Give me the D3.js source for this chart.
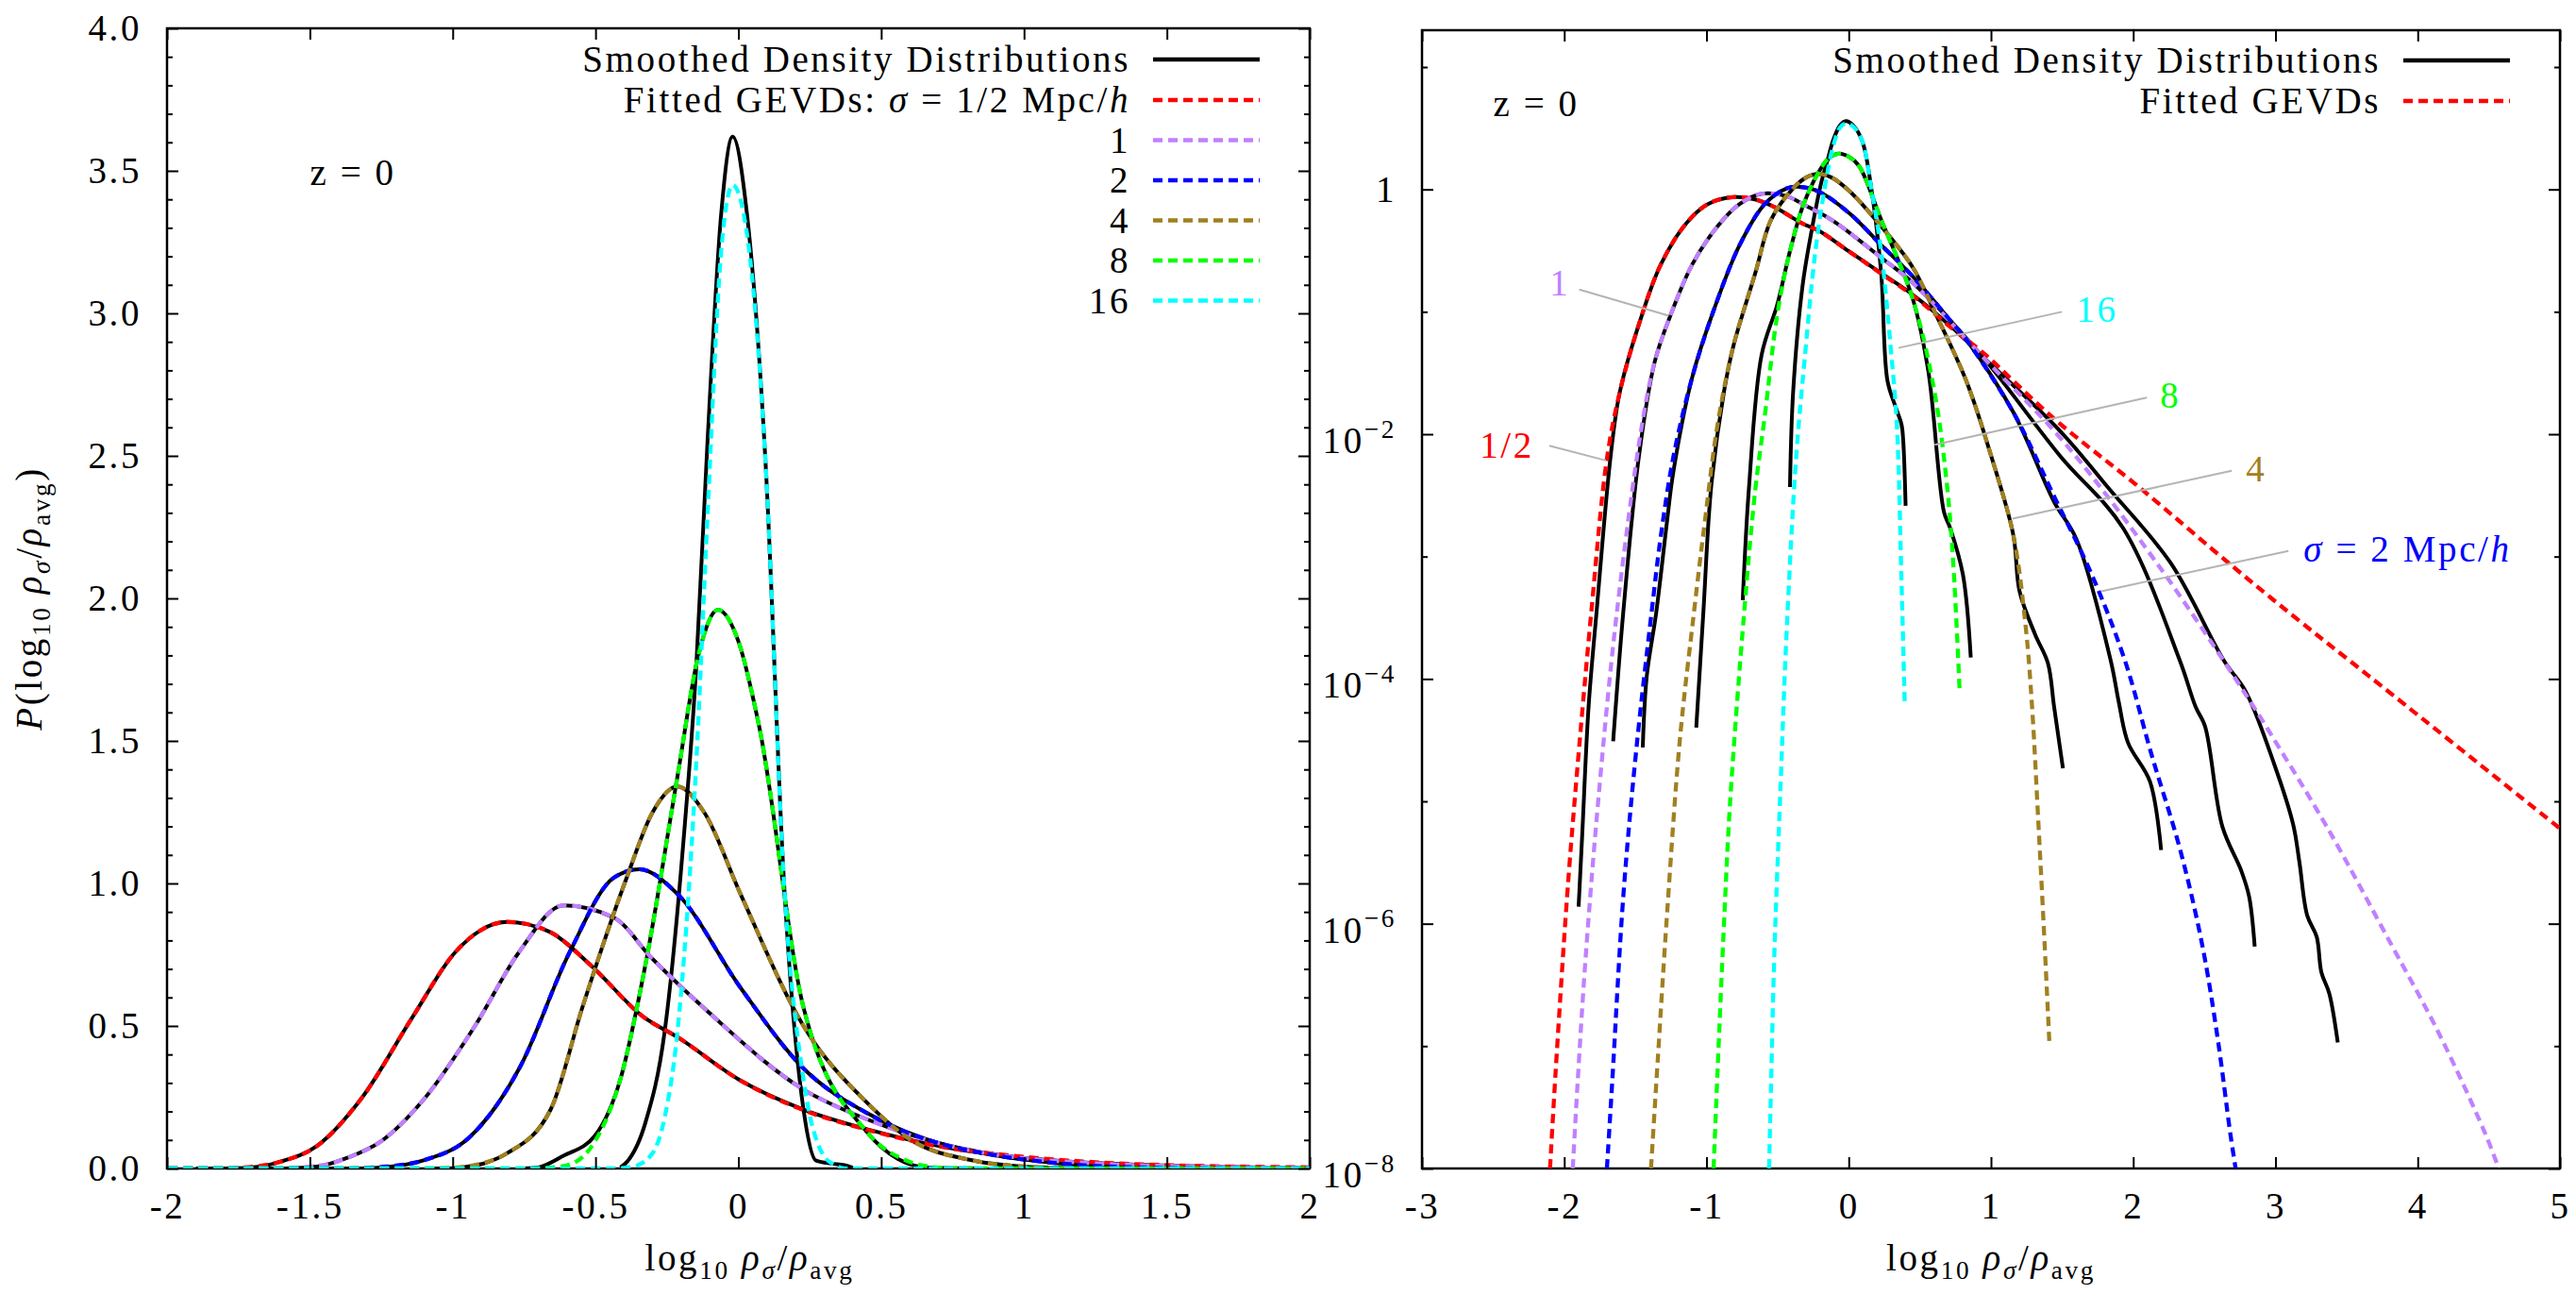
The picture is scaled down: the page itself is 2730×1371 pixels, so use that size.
<!DOCTYPE html>
<html><head><meta charset="utf-8">
<script src="https://cdn.jsdelivr.net/npm/d3@7"></script>
<style>body{margin:0;background:#fff}</style>
</head><body>
<svg id="c" width="2730" height="1371" xmlns="http://www.w3.org/2000/svg"></svg>
<script>
// ---------------- DATA ----------------
const scaleNames = ["1/2", "1", "2", "4", "8", "16"];
const seriesColors = ["#ff0000", "#c080ff", "#0000ff", "#a08020", "#00ff00", "#00ffff"];

// Fitted GEVDs: [log10 rho/rho_avg, P]
const fitHalf = [[-3,0],[-2.10,1e-8],[-2.06,6.3e-8],[-1.98,1.66e-6],[-1.92,1.26e-5],[-1.81,3.5e-4],[-1.70,6.3e-3],[-1.61,0.0219],[-1.475,0.079],[-1.32,0.245],[-1.14,0.532],[-0.99,0.76],[-0.81,0.865],[-0.66,0.83],[-0.52,0.716],[-0.33,0.53],[-0.21,0.459],[0,0.313],[0.23,0.204],[0.45,0.136],[0.74,0.071],[0.94,0.0468],[1.44,0.0135],[2.04,3.7e-3],[2.70,8.3e-4],[3.15,3.1e-4],[3.66,1.05e-4],[5.0,6.0e-6]];
const fitOne = [[-3,0],[-1.94,1e-8],[-1.906,5e-8],[-1.851,5.0e-7],[-1.762,9.8e-6],[-1.63,3.5e-4],[-1.453,0.012],[-1.364,0.039],[-1.254,0.093],[-1.099,0.245],[-0.922,0.50],[-0.767,0.76],[-0.612,0.923],[-0.436,0.88],[-0.303,0.738],[-0.104,0.548],[0.228,0.277],[0.449,0.173],[0.935,0.0437],[1.51,8.7e-3],[2.196,7.9e-4],[2.848,5.9e-5],[2.97,3.5e-5],[3.368,6.0e-6],[3.81,6.9e-7],[4.142,1.32e-7],[4.473,1.95e-8],[4.57,1e-8],[5,0]];
const fitTwo = [[-3,0],[-1.70,1e-8],[-1.663,5e-8],[-1.585,1.66e-6],[-1.497,2.4e-5],[-1.386,3.5e-4],[-1.320,1.5e-3],[-1.232,6.6e-3],[-1.099,0.0295],[-0.944,0.107],[-0.767,0.351],[-0.590,0.76],[-0.436,1.02],[-0.347,1.05],[-0.214,0.964],[0.007,0.635],[0.228,0.351],[0.449,0.195],[0.736,0.079],[0.825,0.0596],[1.157,0.0151],[1.444,3.1e-3],[1.709,7.1e-4],[1.942,1.41e-4],[2.129,2.4e-5],[2.328,4.1e-6],[2.483,6.9e-7],[2.594,1.15e-7],[2.682,1.95e-8],[2.72,1e-8],[5,0]];
const fitFour = [[-3,0],[-1.39,1e-8],[-1.342,7.9e-8],[-1.276,1.26e-6],[-1.187,3.2e-5],[-1.088,3.5e-4],[-1.010,2.0e-3],[-0.922,0.012],[-0.811,0.0525],[-0.657,0.207],[-0.546,0.565],[-0.391,1.02],[-0.30,1.25],[-0.214,1.34],[-0.12,1.25],[0.007,0.964],[0.228,0.50],[0.449,0.232],[0.604,0.10],[0.825,0.0275],[1.002,6.6e-3],[1.157,1.5e-3],[1.245,2.6e-4],[1.289,5.9e-5],[1.33,7.9e-6],[1.37,1.0e-6],[1.41,1.1e-7],[1.411,0],[5,0]];
const fitEight = [[-3,0],[-0.95,1e-8],[-0.922,6.3e-8],[-0.878,9.3e-7],[-0.834,9.8e-6],[-0.735,3.5e-4],[-0.657,3.5e-3],[-0.590,0.0141],[-0.502,0.0955],[-0.413,0.313],[-0.325,0.716],[-0.214,1.37],[-0.14,1.80],[-0.071,1.96],[0.0,1.85],[0.073,1.55],[0.228,0.565],[0.449,0.129],[0.604,0.0219],[0.692,3.7e-3],[0.736,8.3e-4],[0.78,7.9e-5],[0.781,0],[5,0]];
const fitSixteen = [[-3,0],[-0.56,1e-8],[-0.546,4.8e-8],[-0.524,5.1e-7],[-0.480,1.26e-5],[-0.436,2.5e-4],[-0.369,6.6e-3],[-0.303,0.050],[-0.259,0.174],[-0.214,0.473],[-0.148,1.41],[-0.108,2.29],[-0.06,3.22],[-0.02,3.45],[0.03,3.28],[0.095,2.48],[0.16,1.0],[0.228,0.313],[0.294,0.0525],[0.338,0.012],[0.371,6.3e-4],[0.394,6.0e-5],[0.395,0],[5,0]];

// Smoothed density distributions (measured)
const dataHalf = [[-1.899,1.38e-6],[-1.873,5.5e-6],[-1.829,5.9e-5],[-1.773,3.5e-4],[-1.674,6.6e-3],[-1.61,0.0219],[-1.475,0.079],[-1.32,0.245],[-1.14,0.532],[-0.99,0.76],[-0.81,0.865],[-0.66,0.83],[-0.52,0.716],[-0.33,0.53],[-0.21,0.459],[0,0.313],[0.23,0.206],[0.45,0.138],[0.74,0.072],[0.935,0.0437],[1.49,0.0105],[1.82,3.7e-3],[2.262,8.9e-4],[2.638,1.41e-4],[2.793,7.8e-5],[2.992,2.0e-5],[3.124,6.5e-6],[3.168,3.2e-6],[3.223,1.17e-6],[3.290,7.8e-7],[3.323,4.0e-7],[3.378,2.7e-7],[3.438,1.07e-7]];
const dataOne = [[-1.656,3.1e-5],[-1.585,3.5e-4],[-1.475,6.6e-3],[-1.364,0.039],[-1.254,0.093],[-1.099,0.245],[-0.922,0.50],[-0.767,0.76],[-0.612,0.923],[-0.436,0.88],[-0.303,0.738],[-0.104,0.548],[0.228,0.277],[0.449,0.173],[0.935,0.0437],[1.488,6.6e-3],[1.930,1.7e-3],[2.328,1.41e-4],[2.439,5.9e-5],[2.505,4.1e-5],[2.627,6.2e-6],[2.76,2.7e-6],[2.815,1.66e-6],[2.854,6.5e-7]];
const dataTwo = [[-1.448,2.75e-5],[-1.420,1.05e-4],[-1.353,3.5e-4],[-1.276,2.0e-3],[-1.232,5.0e-3],[-1.099,0.0295],[-0.944,0.107],[-0.767,0.351],[-0.590,0.76],[-0.436,1.02],[-0.347,1.05],[-0.214,0.964],[0.007,0.635],[0.228,0.351],[0.449,0.195],[0.736,0.079],[0.825,0.0596],[1.157,0.0151],[1.444,2.8e-3],[1.599,1.4e-3],[1.842,1.41e-4],[1.897,6.6e-5],[1.964,3.0e-5],[2.118,1.45e-5],[2.196,4.0e-6]];
const dataFour = [[-1.072,4.0e-5],[-1.022,3.5e-4],[-0.967,3.7e-3],[-0.878,0.0219],[-0.811,0.0525],[-0.657,0.207],[-0.546,0.565],[-0.391,1.02],[-0.30,1.25],[-0.214,1.34],[-0.12,1.25],[0.007,0.964],[0.228,0.50],[0.449,0.232],[0.604,0.10],[0.825,0.0275],[1.002,6.6e-3],[1.157,1.5e-3],[1.201,5.2e-4],[1.311,2.3e-4],[1.400,1.35e-4],[1.444,5.9e-5],[1.506,1.86e-5]];
const dataEight = [[-0.745,4.4e-4],[-0.701,3.7e-3],[-0.612,0.0447],[-0.502,0.115],[-0.413,0.313],[-0.325,0.716],[-0.214,1.37],[-0.14,1.80],[-0.071,1.96],[0.0,1.85],[0.073,1.55],[0.228,0.565],[0.449,0.129],[0.559,0.033],[0.670,2.3e-3],[0.714,1.7e-3],[0.803,7.1e-4],[0.858,1.5e-4]];
const dataSixteen = [[-0.413,3.7e-3],[-0.391,0.0219],[-0.325,0.162],[-0.259,0.473],[-0.192,1.15],[-0.148,1.75],[-0.108,2.55],[-0.06,3.35],[-0.02,3.62],[0.03,3.35],[0.095,2.48],[0.16,1.0],[0.228,0.207],[0.272,0.0275],[0.327,0.017],[0.371,0.012],[0.383,8.9e-3],[0.400,2.6e-3]];

const fits = [fitHalf, fitOne, fitTwo, fitFour, fitEight, fitSixteen];
const datas = [dataHalf, dataOne, dataTwo, dataFour, dataEight, dataSixteen];

// Tick values / labels
const xTicksL = [-2,-1.5,-1,-0.5,0,0.5,1,1.5,2];
const xTickLabelsL = ["-2","-1.5","-1","-0.5","0","0.5","1","1.5","2"];
const yTicksL = [0,0.5,1,1.5,2,2.5,3,3.5,4];
const yTickLabelsL = ["0.0","0.5","1.0","1.5","2.0","2.5","3.0","3.5","4.0"];
const yMinorL = [0.1,0.2,0.3,0.4,0.6,0.7,0.8,0.9,1.1,1.2,1.3,1.4,1.6,1.7,1.8,1.9,2.1,2.2,2.3,2.4,2.6,2.7,2.8,2.9,3.1,3.2,3.3,3.4,3.6,3.7,3.8,3.9];
const xTicksR = [-3,-2,-1,0,1,2,3,4,5];
const xTickLabelsR = ["-3","-2","-1","0","1","2","3","4","5"];
const yTicksR = [1e-8,1e-6,1e-4,1e-2,1];
const yTickBaseR = ["10","10","10","10","1"];
const yTickExpR = ["\u22128","\u22126","\u22124","\u22122",""];
const yMinorR = [1e-7,1e-5,1e-3,1e-1,10];

// annotations on the log panel: label, text anchor [x,P], leader from, leader to
const annotations = [
  {t:"1/2", at:[-2.594,6.4e-3], from:[-2.105,8.04e-3], to:[-1.707,6.1e-3], c:0},
  {t:"1",   at:[-2.103,0.137], from:[-1.895,0.152], to:[-1.265,0.0929], c:1},
  {t:"16",  at:[1.599,0.0824], from:[1.499,0.100], to:[0.350,0.0507], c:5},
  {t:"8",   at:[2.189,0.01656], from:[2.096,0.0199], to:[0.604,8.18e-3], c:4},
  {t:"4",   at:[2.793,4.14e-3], from:[2.693,5.03e-3], to:[1.152,2.04e-3], c:3},
  {t:"sigma", at:[3.197,9.14e-4], from:[3.091,1.11e-3], to:[1.776,5.21e-4], c:2}
];

// ---------------- DRAWING ----------------
const FONT = '"Liberation Serif","Times New Roman",serif';
const FS = 39;
const LS = 2.6;
const svg = d3.select("#c");
svg.append("rect").attr("width",2730).attr("height",1371).attr("fill","#fff");

const xL = d3.scaleLinear().domain([-2,2]).range([177,1388]);
const yL = d3.scaleLinear().domain([0,4]).range([1238,30]);
const xR = d3.scaleLinear().domain([-3,5]).range([1507,2713]);
const yR = d3.scaleLog().domain([1e-8,20]).range([1238,32]);

function rich(g, x, y, parts, anchor, fill) {
  const t = g.append("text").attr("x",x).attr("y",y)
    .attr("font-family",FONT).attr("font-size",FS).attr("letter-spacing",LS)
    .attr("text-anchor",anchor||"start").attr("fill",fill||"#000");
  let cur = 0;
  parts.forEach(p => {
    const shift = p.sub ? 0.22*FS : (p.sup ? -0.42*FS : 0);
    const ts = t.append("tspan").text(p.t).attr("dy", shift-cur);
    if (p.sub || p.sup) ts.attr("font-size", FS*0.7);
    if (p.it) ts.attr("font-style","italic");
    cur = shift;
  });
  return t;
}

function axisG(g, gen, tr, size, fmt, pad) {
  const sel = g.append("g").attr("transform",tr).call(gen.tickSize(size).tickPadding(pad||0).tickFormat(fmt));
  sel.select(".domain").remove();
  sel.attr("font-family",FONT).attr("font-size",FS).attr("letter-spacing",LS);
  sel.selectAll("line").attr("stroke","#000").attr("stroke-width",2);
  sel.selectAll("text").attr("fill","#000");
  return sel;
}

function panel(id, x, y, isLog) {
  const g = svg.append("g");
  const [x0,x1] = x.range(), [y0,y1] = y.range();
  // border first (curves are drawn on top, as in the original)
  g.append("rect").attr("x",x0).attr("y",y1).attr("width",x1-x0).attr("height",y0-y1)
    .attr("fill","none").attr("stroke","#000").attr("stroke-width",2.5);
  g.append("clipPath").attr("id",id).append("rect").attr("x",x0).attr("y",y1).attr("width",x1-x0).attr("height",y0-y1);
  const lg = d3.line().x(d=>x(d[0])).y(d=>y(d[1]))
    .curve(isLog ? d3.curveCatmullRom.alpha(0.5) : d3.curveMonotoneX);
  const pl = g.append("g").attr("clip-path",`url(#${id})`);
  const prep = arr => isLog ? arr.filter(d=>d[1]>0) : arr;
  datas.forEach(d => pl.append("path").attr("d",lg(prep(d))).attr("fill","none").attr("stroke","#000").attr("stroke-width",4).attr("stroke-linejoin","round"));
  fits.forEach((d,i) => pl.append("path").attr("d",lg(prep(d))).attr("fill","none").attr("stroke",seriesColors[i]).attr("stroke-width",4.3).attr("stroke-dasharray","10,6"));
  return g;
}

// ---- left panel ----
const gL = panel("clipL", xL, yL, false);
axisG(gL, d3.axisBottom(xL).tickValues(xTicksL), `translate(0,${yL(0)})`, -12, (d,i)=>xTickLabelsL[i], 25);
axisG(gL, d3.axisTop(xL).tickValues(xTicksL), `translate(0,${yL(4)})`, -12, "");
axisG(gL, d3.axisLeft(yL).tickValues(yTicksL), `translate(${xL(-2)},0)`, -12, (d,i)=>yTickLabelsL[i], 27);
axisG(gL, d3.axisLeft(yL).tickValues(yMinorL), `translate(${xL(-2)},0)`, -6, "");
axisG(gL, d3.axisRight(yL).tickValues(yTicksL), `translate(${xL(2)},0)`, -12, "");
axisG(gL, d3.axisRight(yL).tickValues(yMinorL), `translate(${xL(2)},0)`, -6, "");

// ---- right panel ----
const gR = panel("clipR", xR, yR, true);
axisG(gR, d3.axisBottom(xR).tickValues(xTicksR), `translate(0,${yR(1e-8)})`, -12, (d,i)=>xTickLabelsR[i], 25);
axisG(gR, d3.axisTop(xR).tickValues(xTicksR), `translate(0,${yR(20)})`, -12, "");
const yl = axisG(gR, d3.axisLeft(yR).tickValues(yTicksR), `translate(${xR(-3)},0)`, -12, ()=>"", 27);
yl.selectAll(".tick text").each(function(d,i){
  const t = d3.select(this);
  t.append("tspan").text(yTickBaseR[i]);
  if (yTickExpR[i]) t.append("tspan").attr("dy",-0.42*FS).attr("font-size",FS*0.7).text(yTickExpR[i]);
  if (yTickExpR[i]) t.attr("dy","0.5em");
});
axisG(gR, d3.axisLeft(yR).tickValues(yMinorR), `translate(${xR(-3)},0)`, -6, "");
axisG(gR, d3.axisRight(yR).tickValues(yTicksR), `translate(${xR(5)},0)`, -12, "");
axisG(gR, d3.axisRight(yR).tickValues(yMinorR), `translate(${xR(5)},0)`, -6, "");

// axis titles
const xTitle = [{t:"log"},{t:"10",sub:true},{t:" "},{t:"\u03C1",it:true},{t:"\u03C3",sub:true,it:true},{t:"/"},{t:"\u03C1",it:true},{t:"avg",sub:true}];
rich(svg, (xL(-2)+xL(2))/2+12, 1346, xTitle, "middle");
rich(svg, (xR(-3)+xR(5))/2, 1346, xTitle, "middle");
const yT = svg.append("g").attr("transform",`translate(44,${(yL(0)+yL(4))/2}) rotate(-90)`);
rich(yT, 0, 0, [{t:"P",it:true},{t:"(log"},{t:"10",sub:true},{t:" "},{t:"\u03C1",it:true},{t:"\u03C3",sub:true,it:true},{t:"/"},{t:"\u03C1",it:true},{t:"avg",sub:true},{t:")"}], "middle");

// z = 0 labels
rich(svg, xL(-1.5), yL(3.45), [{t:"z = 0"}], "start");
rich(svg, xR(-2.5), yR(3.95), [{t:"z = 0"}], "start");

// legends
function legendRow(g, xTextRight, xs0, xs1, yc, parts, color, dashed) {
  rich(g, xTextRight, yc+13, parts, "end");
  const ln = g.append("line").attr("x1",xs0).attr("x2",xs1).attr("y1",yc).attr("y2",yc)
    .attr("stroke",color).attr("stroke-width",dashed?4.3:4.5);
  if (dashed) ln.attr("stroke-dasharray","10,6");
}
// left legend
const lgL = svg.append("g");
const lxr = xL(2) - 190, ls0 = xL(2) - 166, ls1 = xL(2) - 53;
const rowsL = [63,106,148.5,191,233.5,276,318.5];
legendRow(lgL, lxr, ls0, ls1, rowsL[0], [{t:"Smoothed Density Distributions"}], "#000", false);
legendRow(lgL, lxr, ls0, ls1, rowsL[1], [{t:"Fitted GEVDs: "},{t:"\u03C3",it:true},{t:" = 1/2 Mpc/"},{t:"h",it:true}], seriesColors[0], true);
for (let i=1;i<6;i++) legendRow(lgL, lxr, ls0, ls1, rowsL[i+1], [{t:scaleNames[i]}], seriesColors[i], true);
// right legend
const lgR = svg.append("g");
const rxr = xR(5) - 190, rs0 = xR(5) - 166, rs1 = xR(5) - 53;
legendRow(lgR, rxr, rs0, rs1, 64, [{t:"Smoothed Density Distributions"}], "#000", false);
legendRow(lgR, rxr, rs0, rs1, 107, [{t:"Fitted GEVDs"}], seriesColors[0], true);

// annotations
const an = svg.append("g");
annotations.forEach(a => {
  an.append("line").attr("x1",xR(a.from[0])).attr("y1",yR(a.from[1])).attr("x2",xR(a.to[0])).attr("y2",yR(a.to[1]))
    .attr("stroke","#b4b4b4").attr("stroke-width",2);
  const parts = a.t==="sigma" ? [{t:"\u03C3",it:true},{t:" = 2 Mpc/"},{t:"h",it:true}] : [{t:a.t}];
  rich(an, xR(a.at[0]), yR(a.at[1]), parts, "start", seriesColors[a.c]);
});
</script>
</body></html>
